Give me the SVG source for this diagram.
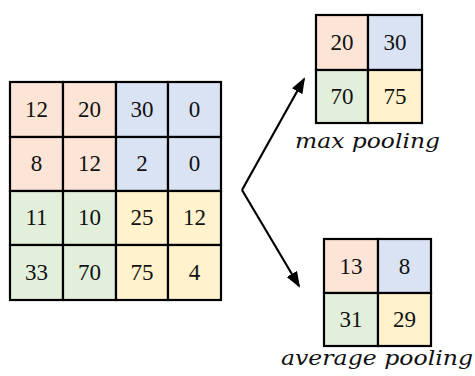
<svg xmlns="http://www.w3.org/2000/svg" width="475" height="376" viewBox="0 0 475 376">
<defs>
<style>
.c{stroke:#000;stroke-width:2.2}
.r{fill:#FCE4D6}.b{fill:#DAE3F3}.g{fill:#E2EFDA}.y{fill:#FFF2CC}
.n{font-family:"Liberation Serif","Times New Roman",serif;font-size:23px;text-anchor:middle;fill:#111}
.l{font-family:"DejaVu Serif",serif;font-style:italic;font-size:20px;fill:#111}
.a{fill:none;stroke:#000;stroke-width:2.2}
</style>
<marker id="ah" viewBox="0 0 16 12" refX="14" refY="6" markerWidth="16" markerHeight="12" orient="auto" markerUnits="userSpaceOnUse">
<path d="M0,0 L16,6 L0,12 Z" fill="#000"/>
</marker>
</defs>
<g id="input">
<rect class="c r" x="10" y="82" width="53" height="55"/>
<rect class="c r" x="63" y="82" width="53" height="55"/>
<rect class="c b" x="116" y="82" width="52" height="55"/>
<rect class="c b" x="168" y="82" width="53" height="55"/>
<rect class="c r" x="10" y="137" width="53" height="54"/>
<rect class="c r" x="63" y="137" width="53" height="54"/>
<rect class="c b" x="116" y="137" width="52" height="54"/>
<rect class="c b" x="168" y="137" width="53" height="54"/>
<rect class="c g" x="10" y="191" width="53" height="54"/>
<rect class="c g" x="63" y="191" width="53" height="54"/>
<rect class="c y" x="116" y="191" width="52" height="54"/>
<rect class="c y" x="168" y="191" width="53" height="54"/>
<rect class="c g" x="10" y="245" width="53" height="55"/>
<rect class="c g" x="63" y="245" width="53" height="55"/>
<rect class="c y" x="116" y="245" width="52" height="55"/>
<rect class="c y" x="168" y="245" width="53" height="55"/>
<text class="n" x="36.5" y="117">12</text><text class="n" x="89.5" y="117">20</text><text class="n" x="142" y="117">30</text><text class="n" x="194.5" y="117">0</text>
<text class="n" x="36.5" y="171">8</text><text class="n" x="89.5" y="171">12</text><text class="n" x="142" y="171">2</text><text class="n" x="194.5" y="171">0</text>
<text class="n" x="36.5" y="225">11</text><text class="n" x="89.5" y="225">10</text><text class="n" x="142" y="225">25</text><text class="n" x="194.5" y="225">12</text>
<text class="n" x="36.5" y="280">33</text><text class="n" x="89.5" y="280">70</text><text class="n" x="142" y="280">75</text><text class="n" x="194.5" y="280">4</text>
</g>
<g id="max">
<rect class="c r" x="316" y="15" width="52" height="55"/>
<rect class="c b" x="368" y="15" width="54" height="55"/>
<rect class="c g" x="316" y="70" width="52" height="53"/>
<rect class="c y" x="368" y="70" width="54" height="53"/>
<text class="n" x="342" y="50">20</text><text class="n" x="395" y="50">30</text>
<text class="n" x="342" y="104">70</text><text class="n" x="395" y="104">75</text>
<text class="l" x="295" y="148" textLength="145" lengthAdjust="spacingAndGlyphs">max pooling</text>
</g>
<g id="avg">
<rect class="c r" x="324" y="239" width="54" height="54"/>
<rect class="c b" x="378" y="239" width="53" height="54"/>
<rect class="c g" x="324" y="293" width="54" height="53"/>
<rect class="c y" x="378" y="293" width="53" height="53"/>
<text class="n" x="351" y="274">13</text><text class="n" x="404.5" y="274">8</text>
<text class="n" x="351" y="327">31</text><text class="n" x="404.5" y="327">29</text>
<text class="l" x="281" y="365" textLength="192" lengthAdjust="spacingAndGlyphs">average pooling</text>
</g>
<g id="connectors">
<path class="a" d="M242,190 L304,79" marker-end="url(#ah)"/>
<path class="a" d="M242,190 L299,286" marker-end="url(#ah)"/>
</g>
</svg>
